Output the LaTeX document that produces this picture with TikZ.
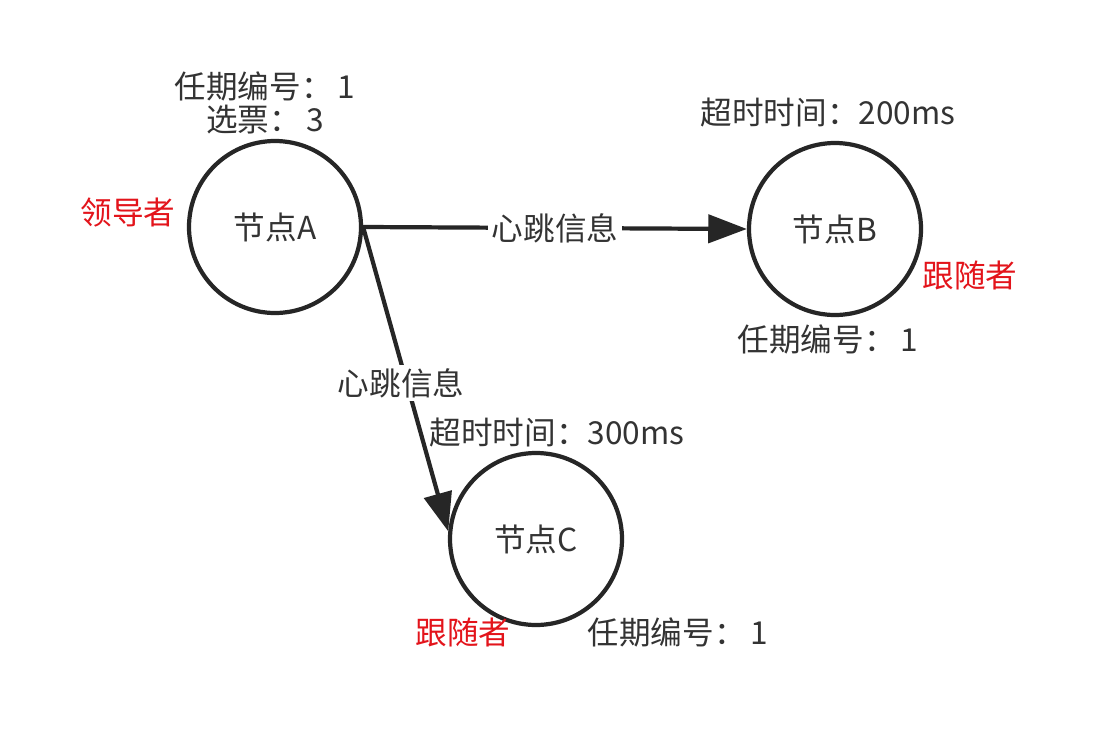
\documentclass[tikz,border=0pt]{standalone}
\usepackage{fontspec}
\setmainfont{Noto Sans CJK SC}
\usetikzlibrary{arrows.meta}
\definecolor{txt}{HTML}{333333}
\definecolor{lin}{HTML}{262626}
\definecolor{redt}{HTML}{E3141B}
\tikzset{
  px/.style={x=0.02cm,y=-0.02cm},
  nodecirc/.style={circle,draw=lin,line width=2.4pt,minimum size=172*0.02cm,inner sep=0pt,text=txt,font=\fontsize{18}{21}\selectfont},
  lbl/.style={text=txt,font=\fontsize{18}{21}\selectfont,inner sep=1pt},
  role/.style={text=redt,font=\fontsize{18}{21}\selectfont,inner sep=1pt},
  conn/.style={draw=lin,line width=2.4pt,-{Triangle[length=22pt,width=16pt]}},
  edgelbl/.style={fill=white,text=txt,font=\fontsize{18}{21}\selectfont,inner sep=2pt}
}
\begin{document}
\begin{tikzpicture}[px]
\useasboundingbox[fill=white] (0,0) rectangle (1100,730);
\node[nodecirc] (A) at (275,227) {节点A};
\node[nodecirc] (B) at (835,229) {节点B};
\node[nodecirc] (C) at (536,539) {节点C};
\node[lbl,align=center] (aterm) at (265,103) {任期编号：\,1\\[-2pt]选票：\,3};
\node[role] (arole) at (128,213) {领导者};
\node[lbl] (bto) at (828,112) {超时时间：200ms};
\node[role] (brole) at (970,275) {跟随者};
\node[lbl] (bterm) at (828,339) {任期编号：\,1};
\node[lbl] (cto) at (557,432) {超时时间：300ms};
\node[role] (crole) at (463,632) {跟随者};
\node[lbl] (cterm) at (678,632) {任期编号：\,1};
\draw[conn] (A.east) -- node[edgelbl,pos=0.5] (ab) {心跳信息} (B.west);
\draw[conn] (A.east) -- (C.175);
\node[edgelbl] (ac) at (401,383) {心跳信息};
\end{tikzpicture}
\end{document}
